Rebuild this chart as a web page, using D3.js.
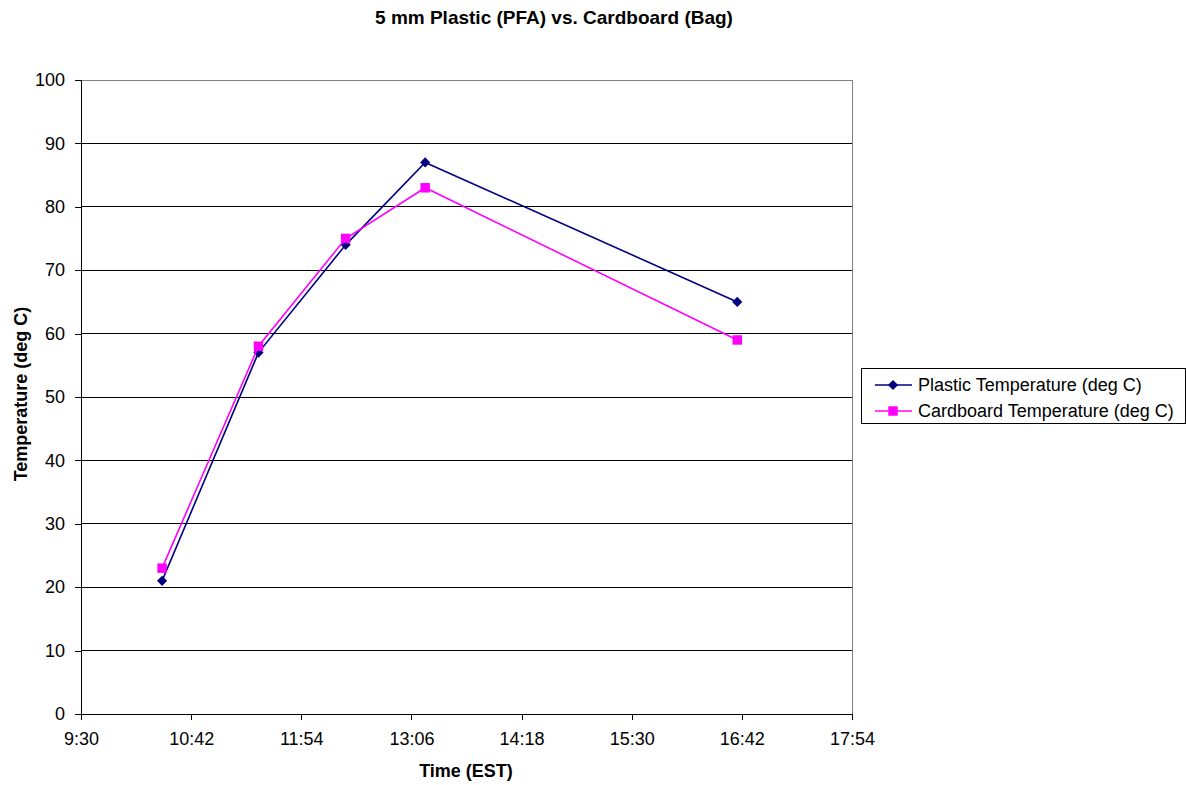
<!DOCTYPE html>
<html>
<head>
<meta charset="utf-8">
<script src="https://cdn.jsdelivr.net/npm/d3@7"></script>
<style>
  body { margin: 0; background: #fff; }
  svg { font-family: "Liberation Sans", Arial, sans-serif; }
</style>
</head>
<body>
<div id="viz"></div>
<script>
// readings (time of day, deg C)
const times = ["10:23", "11:26", "12:23", "13:15", "16:39"];
const plastic = [21, 57, 74, 87, 65];
const cardboard = [23, 58, 75, 83, 59];
const xTickLabels = ["9:30", "10:42", "11:54", "13:06", "14:18", "15:30", "16:42", "17:54"];
const yTicks = [0, 10, 20, 30, 40, 50, 60, 70, 80, 90, 100];

const margin = { top: 80, left: 81 },
  width = 771,
  height = 634;

const toMin = s => { const p = s.split(":"); return +p[0] * 60 + +p[1]; };

const svg = d3.select("#viz").append("svg")
  .attr("width", 1186)
  .attr("height", 785);

const x = d3.scaleLinear().domain([toMin("9:30"), toMin("17:54")]).range([0, width]);
const y = d3.scaleLinear().domain([0, 100]).range([height, 0]);

const g = svg.append("g").attr("transform", `translate(${margin.left},${margin.top})`);

// gridlines
g.selectAll("line.grid")
  .data(yTicks.slice(1, -1))
  .enter().append("line")
  .attr("class", "grid")
  .attr("x1", 0).attr("x2", width)
  .attr("y1", d => y(d)).attr("y2", d => y(d))
  .attr("stroke", "#000").attr("stroke-width", 1)
  .attr("shape-rendering", "crispEdges");

// plot border top / right (grey)
g.append("path")
  .attr("d", `M0,${y(100)}H${width}V${height}`)
  .attr("fill", "none").attr("stroke", "#808080")
  .attr("shape-rendering", "crispEdges");

// axes
const xAxis = d3.axisBottom(x)
  .tickValues(xTickLabels.map(toMin))
  .tickFormat((d, i) => xTickLabels[i])
  .tickSizeOuter(0).tickSize(6).tickPadding(12);

const yAxis = d3.axisLeft(y)
  .tickValues(yTicks)
  .tickSizeOuter(0).tickSize(6).tickPadding(10);

const gx = g.append("g").attr("transform", `translate(0,${height})`).call(xAxis);
const gy = g.append("g").call(yAxis);

[gx, gy].forEach(a => {
  a.select(".domain").attr("stroke", "#000").attr("shape-rendering", "crispEdges");
  a.selectAll(".tick line").attr("stroke", "#000").attr("shape-rendering", "crispEdges");
  a.selectAll("text").attr("font-size", 18).attr("fill", "#000")
    .attr("font-family", "'Liberation Sans', Arial, sans-serif");
});

// series
const diamond = {
  draw(ctx, size) {
    const r = Math.sqrt(size / 2);
    ctx.moveTo(0, -r); ctx.lineTo(r, 0); ctx.lineTo(0, r); ctx.lineTo(-r, 0); ctx.closePath();
  }
};

const series = [
  { name: "Plastic Temperature (deg C)", values: plastic, color: "#000080", shape: diamond, size: 52 },
  { name: "Cardboard Temperature (deg C)", values: cardboard, color: "#FF00FF", shape: d3.symbolSquare, size: 90 }
];

const line = d3.line()
  .x((d, i) => x(toMin(times[i])))
  .y(d => y(d));

series.forEach(s => {
  g.append("path")
    .datum(s.values)
    .attr("d", line)
    .attr("fill", "none")
    .attr("stroke", s.color)
    .attr("stroke-width", 1.6);

  g.selectAll(null)
    .data(s.values)
    .enter().append("path")
    .attr("transform", (d, i) => `translate(${x(toMin(times[i]))},${y(d)})`)
    .attr("d", d3.symbol().type(s.shape).size(s.size))
    .attr("fill", s.color);
});

// titles
svg.append("text")
  .attr("x", 554).attr("y", 24)
  .attr("text-anchor", "middle")
  .attr("font-size", 19).attr("font-weight", "bold")
  .text("5 mm Plastic (PFA) vs. Cardboard (Bag)");

svg.append("text")
  .attr("x", 466).attr("y", 777)
  .attr("text-anchor", "middle")
  .attr("font-size", 18).attr("font-weight", "bold")
  .text("Time (EST)");

svg.append("text")
  .attr("transform", "translate(27,394) rotate(-90)")
  .attr("text-anchor", "middle")
  .attr("font-size", 18).attr("font-weight", "bold")
  .text("Temperature (deg C)");

// legend
const lg = svg.append("g").attr("transform", "translate(861,368)");
lg.append("rect")
  .attr("x", 0.5).attr("y", 0.5)
  .attr("width", 324).attr("height", 55)
  .attr("fill", "#fff").attr("stroke", "#000");

series.forEach((s, i) => {
  const yy = 17 + i * 26;
  lg.append("line")
    .attr("x1", 14).attr("x2", 51)
    .attr("y1", yy).attr("y2", yy)
    .attr("stroke", s.color).attr("stroke-width", 1.6);
  lg.append("path")
    .attr("transform", `translate(32,${yy})`)
    .attr("d", d3.symbol().type(s.shape).size(s.size))
    .attr("fill", s.color);
  lg.append("text")
    .attr("x", 57).attr("y", yy + 6)
    .attr("font-size", 18)
    .text(s.name);
});
</script>
</body>
</html>
